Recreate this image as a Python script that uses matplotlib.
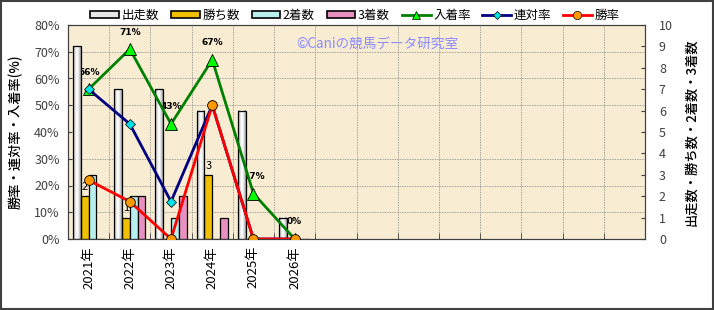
import numpy as np
import matplotlib
matplotlib.use("Agg")
from matplotlib import pyplot as plt
from matplotlib.patches import Rectangle, Patch
from matplotlib.lines import Line2D
from matplotlib.colors import LinearSegmentedColormap

plt.rcParams['font.family'] = ['Noto Sans CJK JP', 'DejaVu Sans']

# data
years = ['2021年', '2022年', '2023年', '2024年', '2025年', '2026年']
n_slots = 14
starts = [9, 7, 7, 6, 6, 1]
wins = [2, 1, 0, 3, 0, 0]
seconds = [3, 2, 1, 0, 0, 0]
thirds = [0, 2, 2, 1, 0, 0]
place_rate = [56, 71, 43, 67, 17, 0]
quinella_rate = [56, 43, 14, 50, 0, 0]
win_rate = [22, 14, 0, 50, 0, 0]

fig = plt.figure(figsize=(7.14, 3.10), dpi=100)
ax = fig.add_axes([68/714, 1-239/310, (645-68)/714, (239-25)/310])
ax2 = ax.twinx()

ax.set_facecolor('#f8ecd2')
x = np.arange(len(years))
w = 0.19

# white bars with a cylinder look
cyl = LinearSegmentedColormap.from_list('cyl', ['#ffffff', '#9a9a9a'])
grad = np.abs(np.linspace(-1, 1, 40))[None, :] ** 1.5
for xi, h in zip(x, starts):
    x0 = xi - 1.5*w - w/2
    ax.imshow(grad, extent=[x0, x0 + w, 0, h], aspect='auto', cmap=cyl,
              zorder=2, interpolation='bilinear')
ax.bar(x - 1.5*w, starts, w, facecolor='none', edgecolor='black', lw=0.9, zorder=2.1)
ax.bar(x - 0.5*w, wins, w, color='#f0c000', edgecolor='black', lw=0.9, zorder=2)
ax.bar(x + 0.5*w, seconds, w, color='#b8eeee', edgecolor='black', lw=0.9, zorder=3)
ax.bar(x + 1.5*w, thirds, w, color='#e890c0', edgecolor='black', lw=0.9, zorder=3)

for xi, v in zip(x, wins):
    if v:
        ax.annotate(str(v), (xi - 0.5*w, v), xytext=(0, 3), textcoords='offset points',
                    ha='center', va='bottom', fontsize=8, zorder=2.5)

for xi, v in zip(x, place_rate):
    ax.annotate(f'{v}%', (xi, v), xycoords=ax2.transData, xytext=(0, 9),
                textcoords='offset points', ha='center', va='bottom',
                fontsize=6.5, fontweight='bold', family='DejaVu Sans', zorder=1.5)

ax.set_xlim(-0.5, n_slots - 0.5)
ax.set_ylim(0, 10)
ax.yaxis.tick_right()
ax.yaxis.set_label_position('right')
ax.set_yticks(range(0, 11))
ax.set_yticks(np.arange(0, 10.01, 1.25), minor=True)
ax.set_xticks(np.arange(-0.5, n_slots, 1), minor=True)
ax.set_xticks(x)
ax.set_xticklabels(years, rotation=90, fontsize=9.5)
ax.tick_params(axis='x', which='major', length=0, pad=5)
ax.tick_params(axis='x', which='minor', direction='in', length=4, color='#404040')
ax.tick_params(axis='y', which='major', direction='in', length=3, colors='#404040',
               labelsize=9, pad=10)
ax.tick_params(axis='y', which='minor', length=0)
ax.grid(which='minor', color='#8a8a8a', lw=0.6, linestyle=(0, (1, 1)), zorder=0)
ax.set_axisbelow(True)
ax.set_ylabel('出走数・勝ち数・2着数・3着数', rotation=90, fontsize=9.5,
              labelpad=8, fontweight='medium')

# rate lines
ax2.plot(x, place_rate, color='#008000', lw=2, marker='^', ms=8,
         mfc='#00ff00', mec='black', mew=0.6, zorder=4)
ax2.plot(x, quinella_rate, color='#000080', lw=2, marker='D', ms=5.5,
         mfc='#00e0e8', mec='black', mew=0.5, zorder=5)
ax2.plot(x, win_rate, color='#ff0000', lw=2, marker='o', ms=7,
         mfc='#ff9900', mec='black', mew=0.6, zorder=6)
ax2.set_ylim(0, 80)
ax2.set_yticks(range(0, 81, 10))
ax2.set_yticklabels([f'{v}%' for v in range(0, 81, 10)])
ax2.yaxis.tick_left()
ax2.yaxis.set_label_position('left')
ax2.tick_params(axis='y', direction='in', length=3, colors='#404040', labelsize=9, pad=6)
ax2.set_ylabel('勝率・連対率・入着率(%)', fontsize=9.5, labelpad=8, fontweight='medium')

for a in (ax, ax2):
    for s in a.spines.values():
        s.set_color('#404040')

ax.text(0.395, 0.91, '©Caniの競馬データ研究室', transform=ax.transAxes,
        color='#8c8cff', fontsize=9.8, ha='left', va='center')

handles = [
    Patch(facecolor='#e6e6e6', edgecolor='black', lw=1.2, label='出走数'),
    Patch(facecolor='#f0c000', edgecolor='black', lw=1.2, label='勝ち数'),
    Patch(facecolor='#b8eeee', edgecolor='black', lw=1.2, label='2着数'),
    Patch(facecolor='#e890c0', edgecolor='black', lw=1.2, label='3着数'),
    Line2D([], [], color='#008000', lw=2, marker='^', ms=6, mfc='#00ff00', mec='black',
           mew=0.5, label='入着率'),
    Line2D([], [], color='#000080', lw=2, marker='D', ms=4, mfc='#00e0e8', mec='black',
           mew=0.5, label='連対率'),
    Line2D([], [], color='#ff0000', lw=2, marker='o', ms=6, mfc='#ff9900', mec='black',
           mew=0.5, label='勝率'),
]
fig.legend(handles=handles, loc='center', bbox_to_anchor=(0.497, 0.95), ncol=7,
           frameon=False, fontsize=9, handlelength=2.3, handleheight=0.45,
           handletextpad=0.2, columnspacing=0.95)

fig.patches.append(Rectangle((0.002, 0.003), 0.996, 0.994, transform=fig.transFigure,
                             fill=False, edgecolor='#404040', lw=1.5))

fig.savefig('out.png', dpi=100)
